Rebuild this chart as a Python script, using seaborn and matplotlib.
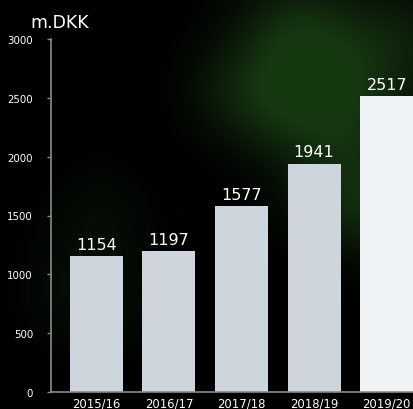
import numpy as np
import pandas as pd
import seaborn as sns
import matplotlib.pyplot as plt

seasons = ['2015/16', '2016/17', '2017/18', '2018/19', '2019/20']
revenue = [1154, 1197, 1577, 1941, 2517]
yticks = [0, 500, 1000, 1500, 2000, 2500, 3000]

df = pd.DataFrame({'season': seasons, 'revenue': revenue})
bar_colors = ['#cfd5dc', '#cfd5dc', '#cfd5dc', '#cfd5dc', '#eff3f6']

sns.set_style('dark')
plt.rcParams['font.family'] = ['DejaVu Sans']

fig = plt.figure(figsize=(4.14, 4.10), dpi=100)
fig.patch.set_facecolor('black')

# dark green blurred foliage behind the chart
bg = fig.add_axes([0, 0, 1, 1])
yy, xx = np.mgrid[0:410, 0:414]
glow = np.zeros((410, 414))
for cx, cy, r, a in [(300, 40, 45, 0.8), (345, 110, 45, 0.7), (280, 110, 40, 0.45),
                     (390, 200, 40, 0.6), (230, 90, 35, 0.3), (330, 200, 35, 0.4),
                     (90, 290, 45, 0.25), (100, 210, 35, 0.15), (400, 40, 40, 0.45)]:
    glow += a * np.exp(-((xx - cx) ** 2 + (yy - cy) ** 2) / (2 * r ** 2))
glow = np.clip(glow, 0, 1)
img = np.zeros((410, 414, 3))
img[..., 0] = 0.09 * glow
img[..., 1] = 0.22 * glow
img[..., 2] = 0.07 * glow
bg.imshow(img, aspect='auto')
bg.axis('off')

ax = fig.add_axes([51 / 414, 17 / 410, 1 - 51 / 414, 353 / 410])
ax.set_facecolor('none')
sns.barplot(data=df, x='season', y='revenue', hue='season', palette=bar_colors,
            legend=False, width=0.73, saturation=1, linewidth=0, ax=ax)
for c in ax.containers:
    ax.bar_label(c, fmt='%d', padding=3, color='white', fontsize=11.5)

ax.set_xlim(-0.624, 4.376)
ax.set_ylim(0, 3000)
ax.set_yticks(yticks)
ax.set_xlabel('')
ax.set_ylabel('')
ax.grid(False)
for s in ['top', 'right']:
    ax.spines[s].set_visible(False)
for s in ['left', 'bottom']:
    ax.spines[s].set_visible(True)
    ax.spines[s].set_color('#8a8a8a')
    ax.spines[s].set_linewidth(1.2)
ax.tick_params(axis='y', colors='#8a8a8a', labelcolor='white', length=3, width=1,
               labelsize=7.4, pad=10, left=True)
ax.tick_params(axis='x', length=0, labelcolor='white', labelsize=8.4, pad=3)

fig.text(30 / 414, 1 - 28 / 410, 'm.DKK', color='white', fontsize=12.5,
         ha='left', va='baseline')

fig.savefig('out.png', dpi=100, facecolor='black')
